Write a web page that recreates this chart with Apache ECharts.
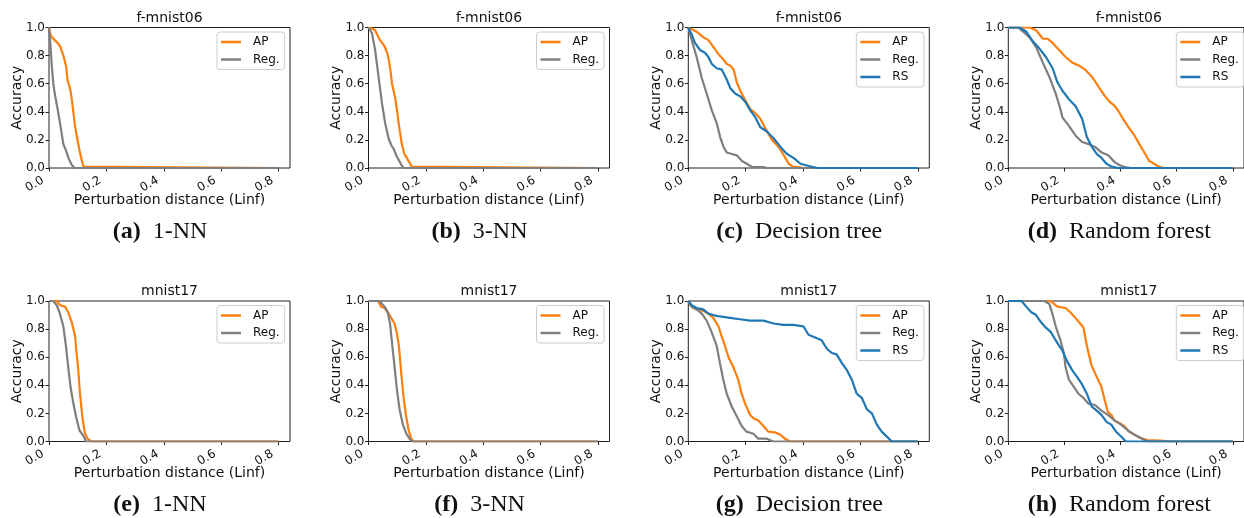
<!DOCTYPE html>
<html>
<head>
<meta charset="utf-8">
<script src="https://cdn.jsdelivr.net/npm/echarts@6/dist/echarts.min.js"></script>
<style>html,body{margin:0;padding:0;background:#fff;}#c{width:1244px;height:518px;}</style>
</head>
<body>
<div id="c"></div>
<script>
// ---------- tick labels / text ----------
const xTicks = [0, 0.2, 0.4, 0.6, 0.8];
const datasets = ['f-mnist06', 'mnist17'];
const captionLetters = ['(a)', '(b)', '(c)', '(d)', '(e)', '(f)', '(g)', '(h)'];
const models = ['1-NN', '3-NN', 'Decision tree', 'Random forest'];
const seriesNames = ['AP', 'Reg.', 'RS'];

// ---------- data: [perturbation distance, accuracy] ----------
// f-mnist06, 1-NN
const fm_1nn_AP = [[0,1.0],[0.005,0.95],[0.01,0.93],[0.02,0.91],[0.03,0.89],[0.04,0.86],[0.05,0.8],[0.06,0.72],[0.065,0.62],[0.07,0.59],[0.075,0.55],[0.08,0.48],[0.09,0.31],[0.1,0.19],[0.11,0.09],[0.12,0.01],[0.125,0],[0.8,0]];
const fm_1nn_Reg = [[0,1.0],[0.005,0.88],[0.01,0.72],[0.015,0.6],[0.02,0.53],[0.03,0.42],[0.04,0.3],[0.05,0.17],[0.06,0.12],[0.07,0.06],[0.08,0.02],[0.09,0],[0.8,0]];
// f-mnist06, 3-NN
const fm_3nn_AP = [[0,1],[0.01,0.995],[0.023,0.98],[0.03,0.95],[0.04,0.91],[0.055,0.87],[0.065,0.82],[0.07,0.78],[0.076,0.7],[0.082,0.6],[0.093,0.5],[0.1,0.4],[0.105,0.32],[0.116,0.17],[0.125,0.1],[0.134,0.07],[0.145,0.03],[0.151,0.01],[0.157,0],[0.8,0]];
const fm_3nn_Reg = [[0,1],[0.012,0.96],[0.023,0.84],[0.035,0.65],[0.047,0.46],[0.058,0.32],[0.07,0.21],[0.08,0.16],[0.087,0.14],[0.099,0.08],[0.11,0.04],[0.115,0.02],[0.122,0],[0.8,0]];
// f-mnist06, Decision tree
const fm_dt_AP = [[0,1],[0.029,0.97],[0.053,0.93],[0.07,0.91],[0.088,0.86],[0.105,0.81],[0.123,0.77],[0.134,0.74],[0.146,0.73],[0.158,0.7],[0.169,0.61],[0.181,0.55],[0.199,0.48],[0.216,0.42],[0.234,0.39],[0.251,0.35],[0.269,0.28],[0.292,0.2],[0.315,0.15],[0.333,0.09],[0.35,0.03],[0.365,0.01],[0.39,0.005],[0.4,0],[0.8,0]];
const fm_dt_Reg = [[0,1],[0.012,0.91],[0.029,0.79],[0.047,0.64],[0.064,0.53],[0.082,0.41],[0.099,0.32],[0.111,0.22],[0.123,0.15],[0.134,0.11],[0.152,0.1],[0.169,0.09],[0.187,0.05],[0.204,0.03],[0.222,0.007],[0.263,0.007],[0.274,0],[0.8,0]];
const fm_dt_RS = [[0,1],[0.012,0.95],[0.023,0.89],[0.041,0.84],[0.058,0.82],[0.07,0.79],[0.082,0.74],[0.099,0.71],[0.117,0.7],[0.134,0.63],[0.146,0.57],[0.163,0.53],[0.181,0.51],[0.199,0.47],[0.216,0.41],[0.234,0.36],[0.251,0.29],[0.274,0.26],[0.298,0.21],[0.321,0.15],[0.344,0.1],[0.368,0.07],[0.391,0.03],[0.42,0.014],[0.45,0],[0.8,0]];
// f-mnist06, Random forest
const fm_rf_AP = [[0,1],[0.076,1],[0.099,0.98],[0.123,0.92],[0.14,0.92],[0.158,0.89],[0.181,0.84],[0.204,0.79],[0.228,0.75],[0.251,0.73],[0.274,0.7],[0.298,0.65],[0.321,0.58],[0.345,0.51],[0.362,0.47],[0.38,0.44],[0.397,0.39],[0.415,0.33],[0.432,0.28],[0.45,0.23],[0.467,0.17],[0.485,0.11],[0.502,0.05],[0.52,0.03],[0.537,0.01],[0.555,0],[0.8,0]];
const fm_rf_Reg = [[0,1],[0.035,1],[0.053,0.97],[0.076,0.93],[0.099,0.86],[0.123,0.75],[0.146,0.65],[0.169,0.53],[0.187,0.41],[0.193,0.36],[0.216,0.3],[0.24,0.23],[0.263,0.185],[0.286,0.17],[0.309,0.15],[0.333,0.11],[0.356,0.09],[0.38,0.04],[0.397,0.02],[0.415,0.007],[0.438,0],[0.8,0]];
const fm_rf_RS = [[0,1],[0.041,1],[0.064,0.97],[0.088,0.9],[0.111,0.85],[0.134,0.79],[0.158,0.71],[0.175,0.61],[0.193,0.55],[0.216,0.49],[0.24,0.44],[0.263,0.35],[0.28,0.22],[0.298,0.15],[0.315,0.1],[0.333,0.07],[0.35,0.03],[0.368,0.01],[0.391,0],[0.8,0]];
// mnist17, 1-NN
const mn_1nn_AP = [[0,1],[0.027,1],[0.038,0.97],[0.056,0.96],[0.067,0.92],[0.079,0.85],[0.091,0.75],[0.096,0.63],[0.102,0.51],[0.108,0.34],[0.116,0.18],[0.125,0.06],[0.134,0.02],[0.149,0],[0.8,0]];
const mn_1nn_Reg = [[0,1],[0.015,1],[0.027,0.97],[0.038,0.91],[0.05,0.82],[0.059,0.68],[0.067,0.53],[0.075,0.39],[0.085,0.27],[0.094,0.18],[0.106,0.08],[0.12,0.04],[0.129,0],[0.8,0]];
// mnist17, 3-NN
const mn_3nn_AP = [[0,1],[0.033,1],[0.044,0.96],[0.056,0.95],[0.067,0.92],[0.079,0.88],[0.091,0.84],[0.099,0.77],[0.106,0.68],[0.114,0.49],[0.122,0.32],[0.131,0.18],[0.14,0.08],[0.149,0.02],[0.157,0],[0.8,0]];
const mn_3nn_Reg = [[0,1],[0.038,1],[0.056,0.96],[0.067,0.92],[0.075,0.84],[0.082,0.7],[0.091,0.53],[0.099,0.37],[0.108,0.23],[0.12,0.12],[0.131,0.06],[0.143,0.02],[0.152,0],[0.8,0]];
// mnist17, Decision tree
const mn_dt_AP = [[0,1],[0.008,0.97],[0.017,0.95],[0.035,0.94],[0.052,0.93],[0.07,0.91],[0.087,0.88],[0.105,0.82],[0.116,0.75],[0.128,0.68],[0.14,0.6],[0.157,0.53],[0.174,0.44],[0.186,0.34],[0.198,0.27],[0.215,0.19],[0.227,0.165],[0.244,0.15],[0.262,0.11],[0.279,0.07],[0.302,0.065],[0.32,0.05],[0.337,0.02],[0.355,0],[0.8,0]];
const mn_dt_Reg = [[0,1],[0.012,0.96],[0.029,0.94],[0.047,0.91],[0.064,0.86],[0.081,0.78],[0.099,0.68],[0.11,0.56],[0.122,0.44],[0.134,0.34],[0.151,0.25],[0.169,0.18],[0.186,0.11],[0.203,0.07],[0.227,0.055],[0.244,0.02],[0.273,0.02],[0.297,0],[0.8,0]];
const mn_dt_RS = [[0,1],[0.012,0.97],[0.029,0.95],[0.052,0.94],[0.07,0.91],[0.087,0.9],[0.11,0.89],[0.145,0.88],[0.18,0.87],[0.215,0.86],[0.262,0.86],[0.297,0.84],[0.331,0.83],[0.366,0.83],[0.401,0.82],[0.419,0.76],[0.442,0.74],[0.465,0.72],[0.483,0.66],[0.5,0.63],[0.517,0.62],[0.535,0.56],[0.552,0.51],[0.57,0.44],[0.587,0.34],[0.605,0.31],[0.622,0.23],[0.64,0.2],[0.657,0.12],[0.674,0.07],[0.692,0.035],[0.709,0],[0.8,0]];
// mnist17, Random forest
const mn_rf_AP = [[0,1],[0.151,1],[0.163,0.98],[0.175,0.96],[0.204,0.95],[0.221,0.92],[0.239,0.88],[0.256,0.84],[0.268,0.81],[0.28,0.68],[0.297,0.54],[0.315,0.46],[0.332,0.39],[0.344,0.29],[0.355,0.21],[0.367,0.19],[0.378,0.15],[0.396,0.13],[0.413,0.11],[0.431,0.07],[0.448,0.05],[0.472,0.025],[0.495,0.01],[0.541,0.007],[0.582,0],[0.8,0]];
const mn_rf_Reg = [[0,1],[0.128,1],[0.146,0.98],[0.157,0.91],[0.169,0.82],[0.186,0.72],[0.198,0.63],[0.204,0.53],[0.216,0.44],[0.233,0.39],[0.25,0.34],[0.268,0.31],[0.285,0.27],[0.309,0.26],[0.332,0.22],[0.355,0.19],[0.379,0.15],[0.402,0.12],[0.425,0.08],[0.448,0.05],[0.472,0.025],[0.489,0.007],[0.507,0],[0.8,0]];
const mn_rf_RS = [[0,1],[0.047,1],[0.064,0.96],[0.082,0.92],[0.099,0.9],[0.116,0.85],[0.134,0.81],[0.151,0.78],[0.175,0.7],[0.192,0.65],[0.21,0.57],[0.227,0.51],[0.245,0.46],[0.262,0.41],[0.28,0.34],[0.297,0.25],[0.315,0.22],[0.332,0.19],[0.35,0.14],[0.367,0.12],[0.384,0.07],[0.402,0.035],[0.419,0],[0.8,0]];

const panelSeries = [
  [fm_1nn_AP, fm_1nn_Reg],
  [fm_3nn_AP, fm_3nn_Reg],
  [fm_dt_AP, fm_dt_Reg, fm_dt_RS],
  [fm_rf_AP, fm_rf_Reg, fm_rf_RS],
  [mn_1nn_AP, mn_1nn_Reg],
  [mn_3nn_AP, mn_3nn_Reg],
  [mn_dt_AP, mn_dt_Reg, mn_dt_RS],
  [mn_rf_AP, mn_rf_Reg, mn_rf_RS]
];

// ---------- layout / style ----------
const colors = ['#ff7f0e', '#7f7f7f', '#1f77b4'];
const FONT = 'DejaVu Sans';
const SERIF = 'Liberation Serif';
const colLeft = [49, 368.5, 688.3, 1008.3];
const rowTop = [27.5, 301];
const plotW = 241, plotH = 140.5;
const xMax = 0.84;

const grids = [], xAxes = [], yAxes = [], series = [], legends = [], graphics = [];
for (let p = 0; p < 8; p++) {
  const r = Math.floor(p / 4), c = p % 4;
  const L = colLeft[c], T = rowTop[r];
  grids.push({left: L, top: T, width: plotW, height: plotH, show: true,
    borderColor: '#222', borderWidth: 1, backgroundColor: 'transparent', containLabel: false});
  xAxes.push({gridIndex: p, type: 'value', min: 0, max: xMax, interval: 0.2,
    axisLine: {show: false}, splitLine: {show: false},
    axisTick: {show: true, length: 3.5, customValues: xTicks, lineStyle: {color: '#222', width: 1}},
    axisLabel: {customValues: xTicks, rotate: 30, margin: 8, padding: [0, 7, 0, 0],
      fontFamily: FONT, fontSize: 12, color: '#111', formatter: v => v.toFixed(1)},
    name: 'Perturbation distance (Linf)', nameLocation: 'middle', nameGap: 25, nameMoveOverlap: false,
    nameTextStyle: {fontFamily: FONT, fontSize: 14, color: '#111'}});
  yAxes.push({gridIndex: p, type: 'value', min: 0, max: 1, interval: 0.2,
    axisLine: {show: false}, splitLine: {show: false},
    axisTick: {show: true, length: 3.5, lineStyle: {color: '#222', width: 1}},
    axisLabel: {margin: 4, fontFamily: FONT, fontSize: 12, color: '#111', formatter: v => v.toFixed(1)},
    name: 'Accuracy', nameLocation: 'middle', nameGap: 25, nameMoveOverlap: false,
    nameTextStyle: {fontFamily: FONT, fontSize: 14, color: '#111'}});
  const names = [];
  panelSeries[p].forEach((d, k) => {
    names.push(seriesNames[k]);
    series.push({type: 'line', name: seriesNames[k], xAxisIndex: p, yAxisIndex: p, data: d,
      showSymbol: false, symbol: 'none', animation: false, clip: true,
      lineStyle: {width: 2.2, color: colors[k]}, itemStyle: {color: colors[k]}});
  });
  legends.push({data: names, orient: 'vertical', left: L + 168, top: T + 4.5,
    icon: 'rect', itemWidth: 20, itemHeight: 2.5, itemGap: 3.5,
    padding: [3, 5, 3, 4], borderColor: '#cccccc', borderWidth: 1, borderRadius: 3,
    backgroundColor: 'rgba(255,255,255,0.8)', selectedMode: false, z: 10,
    textStyle: {fontFamily: FONT, fontSize: 12, color: '#111', lineHeight: 14, padding: [0, 0, 0, 7]}});
  graphics.push({type: 'text', x: L + plotW / 2, y: T - 9.5, z: 10,
    style: {text: datasets[r], fontFamily: FONT, fontSize: 14, fill: '#111', align: 'center', verticalAlign: 'middle'}});
  graphics.push({type: 'text', x: L + 111, y: r === 0 ? 232 : 505, z: 10,
    style: {text: '{b|' + captionLetters[p] + '}{n|' + models[c] + '}', align: 'center', verticalAlign: 'middle',
      rich: {b: {fontFamily: SERIF, fontWeight: 'bold', fontSize: 24, fill: '#111', padding: [0, 12, 0, 0]},
             n: {fontFamily: SERIF, fontSize: 24, fill: '#111'}}}});
}

const chart = echarts.init(document.getElementById('c'), null, {renderer: 'canvas'});
chart.setOption({
  animation: false,
  backgroundColor: '#fff',
  grid: grids, xAxis: xAxes, yAxis: yAxes, series: series, legend: legends,
  graphic: graphics
});
</script>
</body>
</html>
